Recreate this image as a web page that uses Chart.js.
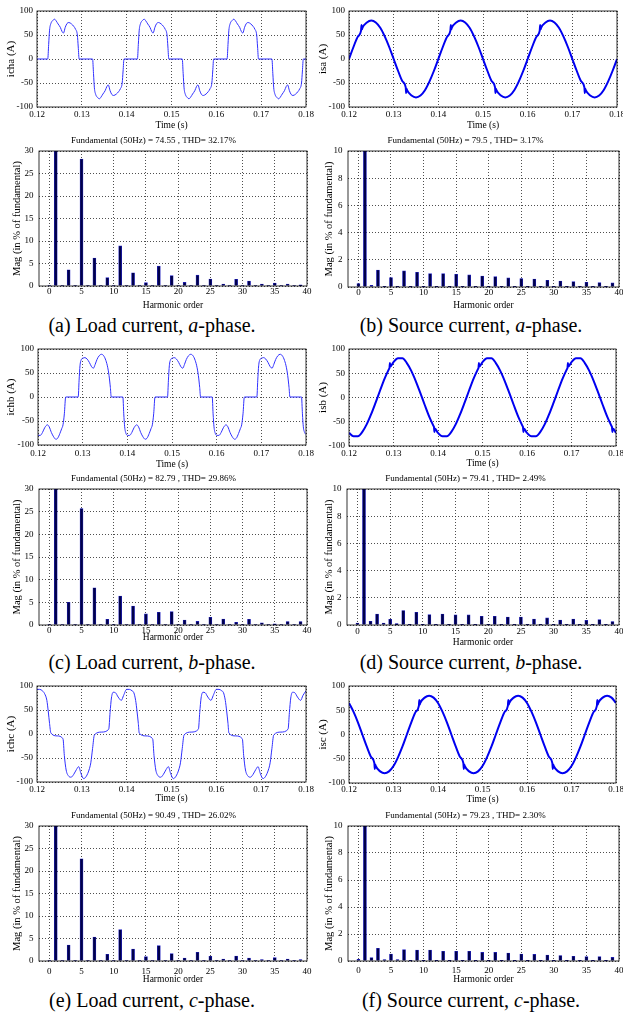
<!DOCTYPE html>
<html>
<head>
<meta charset="utf-8">
<script src="https://cdn.jsdelivr.net/npm/chart.js@4.4.1/dist/chart.umd.min.js"></script>
<style>
  html, body { margin: 0; padding: 0; background: #fff; }
  body { position: relative; width: 623px; height: 1021px; overflow: hidden; font-family: "Liberation Serif", "Times New Roman", serif; }
  .panel { position: absolute; }
  .cap { position: absolute; width: 320px; text-align: center; font-size: 20px; line-height: 24px; color: #000; }
</style>
</head>
<body>
<div class="cap" style="left:-8px;top:313px">(a) Load current, <i>a</i>-phase.</div>
<div class="cap" style="left:311px;top:313px">(b) Source current, <i>a</i>-phase.</div>
<div class="cap" style="left:-8px;top:650px">(c) Load current, <i>b</i>-phase.</div>
<div class="cap" style="left:311px;top:650px">(d) Source current, <i>b</i>-phase.</div>
<div class="cap" style="left:-8px;top:988px">(e) Load current, <i>c</i>-phase.</div>
<div class="cap" style="left:311px;top:988px">(f) Source current, <i>c</i>-phase.</div>
<script>
// tick values / labels
const timeTicks = [0.12, 0.13, 0.14, 0.15, 0.16, 0.17, 0.18];
const timeTickLabels = ['0.12', '0.13', '0.14', '0.15', '0.16', '0.17', '0.18'];
const ampTicks = [-100, -50, 0, 50, 100];
const ampTickLabels = ['-100', '-50', '0', '50', '100'];
const orderTicks = [0, 5, 10, 15, 20, 25, 30, 35, 40];
const orderTickLabels = ['0', '5', '10', '15', '20', '25', '30', '35', '40'];
const loadMagTicks = [0, 5, 10, 15, 20, 25, 30];
const loadMagLabels = ['0', '5', '10', '15', '20', '25', '30'];
const srcMagTicks = [0, 2, 4, 6, 8, 10];
const srcMagLabels = ['0', '2', '4', '6', '8', '10'];

// harmonic spectra, % of fundamental (order 1 = 100, clipped by the axis)
const harmonicOrder = [0,1,2,3,4,5,6,7,8,9,10,11,12,13,14,15,16,17,18,19,20,21,22,23,24,25,26,27,28,29,30,31,32,33,34,35,36,37,38,39];
const loadAHarm = [0.1,100,0.1,3.6,0.1,28.2,0.1,6.2,0.1,1.85,0.1,8.9,0.1,2.95,0.1,0.75,0.1,4.4,0.1,2.3,0.1,0.8,0.1,2.4,0.1,1.55,0.1,0.45,0.1,1.5,0.1,1.1,0.1,0.45,0.1,0.65,0.1,0.45,0.1,0.25];
const srcAHarm = [0.25,100,0.12,1.25,0.05,0.7,0.05,1.18,0.05,1.08,0.05,0.98,0.05,0.98,0.05,0.93,0.05,0.89,0.05,0.81,0.05,0.76,0.05,0.67,0.05,0.62,0.05,0.59,0.05,0.49,0.05,0.44,0.05,0.39,0.05,0.35,0.05,0.32,0.05,0.3];
const loadBHarm = [0.1,100,0.1,5.0,0.1,25.7,0.1,8.2,0.1,1.25,0.1,6.4,0.1,4.2,0.1,2.45,0.1,2.8,0.1,2.95,0.1,1.1,0.1,0.8,0.1,1.7,0.1,1.33,0.1,0.6,0.1,1.25,0.1,0.5,0.1,0.25,0.1,0.75,0.1,0.75];
const srcBHarm = [0.15,100,0.27,0.81,0.15,0.42,0.1,1.06,0.05,0.94,0.05,0.76,0.05,0.81,0.05,0.74,0.05,0.74,0.05,0.64,0.05,0.64,0.05,0.59,0.05,0.59,0.05,0.44,0.05,0.52,0.05,0.37,0.05,0.44,0.05,0.34,0.05,0.39,0.05,0.25];
const loadCHarm = [0.1,100,0.1,3.55,0.1,22.7,0.1,5.33,0.1,1.48,0.1,6.96,0.1,2.67,0.1,0.96,0.1,3.4,0.1,1.63,0.1,0.67,0.1,1.93,0.1,1.04,0.1,0.44,0.1,1.1,0.1,0.67,0.1,0.3,0.1,0.74,0.1,0.44,0.1,0.3];
const srcCHarm = [0.12,100,0.25,0.94,0.1,0.52,0.1,0.84,0.05,0.81,0.05,0.81,0.05,0.72,0.05,0.72,0.05,0.72,0.05,0.64,0.05,0.64,0.05,0.59,0.05,0.52,0.05,0.49,0.05,0.44,0.05,0.4,0.05,0.35,0.05,0.32,0.05,0.32,0.05,0.27];

const harmTitles = [
  'Fundamental (50Hz) = 74.55 , THD= 32.17%',
  'Fundamental (50Hz) = 79.5 , THD= 3.17%',
  'Fundamental (50Hz) = 82.79 , THD= 29.86%',
  'Fundamental (50Hz) = 79.41 , THD= 2.49%',
  'Fundamental (50Hz) = 90.49 , THD= 26.02%',
  'Fundamental (50Hz) = 79.23 , THD= 2.30%'
];

// waveforms [time s, current A]
const loadA = [
  [0.1200,0],
  [0.1224,0],[0.1226,30],[0.1228,60],[0.1231,74],[0.1235,80],[0.1239,83],[0.1243,79],[0.1247,73],[0.1252,66],[0.1256,57],[0.1259,54],[0.1263,66],[0.1267,74],[0.1271,76],[0.1277,73],[0.1282,68],[0.1286,62],[0.1290,50],[0.1292,25],[0.1294,0],
  [0.1324,0],[0.1326,-30],[0.1328,-60],[0.1331,-74],[0.1335,-80],[0.1339,-83],[0.1343,-79],[0.1347,-73],[0.1352,-66],[0.1356,-57],[0.1359,-54],[0.1363,-66],[0.1367,-74],[0.1371,-76],[0.1377,-73],[0.1382,-68],[0.1386,-62],[0.1390,-50],[0.1392,-25],[0.1394,0],
  [0.1424,0],[0.1426,30],[0.1428,60],[0.1431,74],[0.1435,80],[0.1439,83],[0.1443,79],[0.1447,73],[0.1452,66],[0.1456,57],[0.1459,54],[0.1463,66],[0.1467,74],[0.1471,76],[0.1477,73],[0.1482,68],[0.1486,62],[0.1490,50],[0.1492,25],[0.1494,0],
  [0.1524,0],[0.1526,-30],[0.1528,-60],[0.1531,-74],[0.1535,-80],[0.1539,-83],[0.1543,-79],[0.1547,-73],[0.1552,-66],[0.1556,-57],[0.1559,-54],[0.1563,-66],[0.1567,-74],[0.1571,-76],[0.1577,-73],[0.1582,-68],[0.1586,-62],[0.1590,-50],[0.1592,-25],[0.1594,0],
  [0.1624,0],[0.1626,30],[0.1628,60],[0.1631,74],[0.1635,80],[0.1639,83],[0.1643,79],[0.1647,73],[0.1652,66],[0.1656,57],[0.1659,54],[0.1663,66],[0.1667,74],[0.1671,76],[0.1677,73],[0.1682,68],[0.1686,62],[0.1690,50],[0.1692,25],[0.1694,0],
  [0.1724,0],[0.1726,-30],[0.1728,-60],[0.1731,-74],[0.1735,-80],[0.1739,-83],[0.1743,-79],[0.1747,-73],[0.1752,-66],[0.1756,-57],[0.1759,-54],[0.1763,-66],[0.1767,-74],[0.1771,-76],[0.1777,-73],[0.1782,-68],[0.1786,-62],[0.1790,-50],[0.1792,-25],[0.1794,0],
  [0.1800,0]
];
const loadB = [
  [0.1200,-78],[0.1201,-80],[0.1205,-80],[0.1210,-74],[0.1215,-64],[0.1221,-58],[0.1225,-62],[0.1230,-74],[0.1235,-83],[0.1240,-88],[0.1244,-86],[0.1249,-76],[0.1253,-66],[0.1256,-58],[0.1259,-35],[0.1262,0],
  [0.1290,0],[0.1292,35],[0.1294,65],[0.1297,78],[0.1301,81],[0.1305,82],[0.1310,79],[0.1315,72],[0.1320,63],[0.1324,60],[0.1328,68],[0.1332,78],[0.1337,86],[0.1342,89],[0.1347,86],[0.1352,76],[0.1356,62],[0.1359,45],[0.1362,20],[0.1364,0],
  [0.1390,0],[0.1392,-35],[0.1394,-62],[0.1397,-76],[0.1401,-80],[0.1405,-80],[0.1410,-74],[0.1415,-64],[0.1421,-58],[0.1425,-62],[0.1430,-74],[0.1435,-83],[0.1440,-88],[0.1444,-86],[0.1449,-76],[0.1453,-66],[0.1456,-58],[0.1459,-35],[0.1462,0],
  [0.1490,0],[0.1492,35],[0.1494,65],[0.1497,78],[0.1501,81],[0.1505,82],[0.1510,79],[0.1515,72],[0.1520,63],[0.1524,60],[0.1528,68],[0.1532,78],[0.1537,86],[0.1542,89],[0.1547,86],[0.1552,76],[0.1556,62],[0.1559,45],[0.1562,20],[0.1564,0],
  [0.1590,0],[0.1592,-35],[0.1594,-62],[0.1597,-76],[0.1601,-80],[0.1605,-80],[0.1610,-74],[0.1615,-64],[0.1621,-58],[0.1625,-62],[0.1630,-74],[0.1635,-83],[0.1640,-88],[0.1644,-86],[0.1649,-76],[0.1653,-66],[0.1656,-58],[0.1659,-35],[0.1662,0],
  [0.1690,0],[0.1692,35],[0.1694,65],[0.1697,78],[0.1701,81],[0.1705,82],[0.1710,79],[0.1715,72],[0.1720,63],[0.1724,60],[0.1728,68],[0.1732,78],[0.1737,86],[0.1742,89],[0.1747,86],[0.1752,76],[0.1756,62],[0.1759,45],[0.1762,20],[0.1764,0],
  [0.1790,0],[0.1792,-35],[0.1794,-62],[0.1797,-74],[0.1800,-78]
];
const loadC = [
  [0.1200,93],[0.1206,93],[0.1212,90],[0.1217,84],[0.1222,70],[0.1225,48],[0.1228,22],[0.1231,2],[0.1245,-4],
  [0.1258,-10],[0.1261,-45],[0.1265,-75],[0.1270,-87],[0.1276,-90],[0.1282,-84],[0.1288,-74],[0.1293,-68],[0.1298,-82],[0.1304,-93],[0.1310,-88],[0.1316,-75],[0.1320,-60],[0.1324,-30],[0.1328,-2],[0.1344,4],
  [0.1360,10],[0.1363,45],[0.1366,75],[0.1370,87],[0.1375,86],[0.1381,77],[0.1388,70],[0.1393,80],[0.1400,93],[0.1406,93],[0.1412,90],[0.1416,86],[0.1420,70],[0.1423,48],[0.1426,22],[0.1428,2],[0.1443,-4],
  [0.1458,-10],[0.1461,-45],[0.1465,-75],[0.1470,-87],[0.1476,-90],[0.1482,-84],[0.1488,-74],[0.1493,-68],[0.1498,-82],[0.1504,-93],[0.1510,-88],[0.1516,-75],[0.1520,-60],[0.1524,-30],[0.1528,-2],[0.1544,4],
  [0.1560,10],[0.1563,45],[0.1566,75],[0.1570,87],[0.1575,86],[0.1581,77],[0.1588,70],[0.1593,80],[0.1600,93],[0.1606,93],[0.1612,90],[0.1616,86],[0.1620,70],[0.1623,48],[0.1626,22],[0.1628,2],[0.1643,-4],
  [0.1658,-10],[0.1661,-45],[0.1665,-75],[0.1670,-87],[0.1676,-90],[0.1682,-84],[0.1688,-74],[0.1693,-68],[0.1698,-82],[0.1704,-93],[0.1710,-88],[0.1716,-75],[0.1720,-60],[0.1724,-30],[0.1728,-2],[0.1744,4],
  [0.1760,10],[0.1763,45],[0.1766,75],[0.1770,87],[0.1775,86],[0.1781,77],[0.1788,70],[0.1793,80],[0.1800,90]
];
const srcA = [
  [0.120,0],[0.121,25],[0.122,47],[0.1227,59],[0.1228,71],[0.1229,62],[0.123,65],[0.124,76],[0.125,80],[0.126,76],[0.127,65],[0.128,47],[0.129,25],
  [0.130,0],[0.131,-25],[0.132,-47],[0.1327,-59],[0.1328,-71],[0.1329,-62],[0.133,-65],[0.134,-76],[0.135,-80],[0.136,-76],[0.137,-65],[0.138,-47],[0.139,-25],
  [0.140,0],[0.141,25],[0.142,47],[0.1427,59],[0.1428,71],[0.1429,62],[0.143,65],[0.144,76],[0.145,80],[0.146,76],[0.147,65],[0.148,47],[0.149,25],
  [0.150,0],[0.151,-25],[0.152,-47],[0.1527,-59],[0.1528,-71],[0.1529,-62],[0.153,-65],[0.154,-76],[0.155,-80],[0.156,-76],[0.157,-65],[0.158,-47],[0.159,-25],
  [0.160,0],[0.161,25],[0.162,47],[0.1627,59],[0.1628,71],[0.1629,62],[0.163,65],[0.164,76],[0.165,80],[0.166,76],[0.167,65],[0.168,47],[0.169,25],
  [0.170,0],[0.171,-25],[0.172,-47],[0.1727,-59],[0.1728,-71],[0.1729,-62],[0.173,-65],[0.174,-76],[0.175,-80],[0.176,-76],[0.177,-65],[0.178,-47],[0.179,-25],
  [0.180,0]
];
const srcB = [
  [0.120,-73],[0.121,-80],[0.122,-80],[0.123,-71],[0.124,-55],[0.125,-34],[0.126,-10],[0.127,15],[0.128,39],[0.129,59],[0.1291,61],[0.1292,71],[0.1293,64],
  [0.130,73],[0.131,81],[0.132,81],[0.133,71],[0.134,55],[0.135,34],[0.136,10],[0.137,-15],[0.138,-39],[0.139,-59],[0.1391,-61],[0.1392,-71],[0.1393,-64],
  [0.140,-73],[0.141,-80],[0.142,-80],[0.143,-71],[0.144,-55],[0.145,-34],[0.146,-10],[0.147,15],[0.148,39],[0.149,59],[0.1491,61],[0.1492,71],[0.1493,64],
  [0.150,73],[0.151,81],[0.152,81],[0.153,71],[0.154,55],[0.155,34],[0.156,10],[0.157,-15],[0.158,-39],[0.159,-59],[0.1591,-61],[0.1592,-71],[0.1593,-64],
  [0.160,-73],[0.161,-80],[0.162,-80],[0.163,-71],[0.164,-55],[0.165,-34],[0.166,-10],[0.167,15],[0.168,39],[0.169,59],[0.1691,61],[0.1692,71],[0.1693,64],
  [0.170,73],[0.171,81],[0.172,81],[0.173,71],[0.174,55],[0.175,34],[0.176,10],[0.177,-15],[0.178,-39],[0.179,-59],[0.1791,-61],[0.1792,-71],[0.1793,-64],
  [0.180,-73]
];
const srcC = [
  [0.120,65],[0.121,47],[0.122,25],[0.123,0],[0.124,-25],[0.125,-47],[0.1257,-59],[0.1258,-71],[0.1259,-62],[0.126,-65],[0.127,-76],[0.128,-80],[0.129,-76],
  [0.130,-65],[0.131,-47],[0.132,-25],[0.133,0],[0.134,25],[0.135,47],[0.1357,59],[0.1358,71],[0.1359,62],[0.136,65],[0.137,76],[0.138,80],[0.139,76],
  [0.140,65],[0.141,47],[0.142,25],[0.143,0],[0.144,-25],[0.145,-47],[0.1457,-59],[0.1458,-71],[0.1459,-62],[0.146,-65],[0.147,-76],[0.148,-80],[0.149,-76],
  [0.150,-65],[0.151,-47],[0.152,-25],[0.153,0],[0.154,25],[0.155,47],[0.1557,59],[0.1558,71],[0.1559,62],[0.156,65],[0.157,76],[0.158,80],[0.159,76],
  [0.160,65],[0.161,47],[0.162,25],[0.163,0],[0.164,-25],[0.165,-47],[0.1657,-59],[0.1658,-71],[0.1659,-62],[0.166,-65],[0.167,-76],[0.168,-80],[0.169,-76],
  [0.170,-65],[0.171,-47],[0.172,-25],[0.173,0],[0.174,25],[0.175,47],[0.1757,59],[0.1758,71],[0.1759,62],[0.176,65],[0.177,76],[0.178,80],[0.179,76],
  [0.180,65]
];

// panel placement (plot-area edges in page px)
const layout = {
  a1: { cx: 0, cw: 320, left: 37, right: 306, top: 11, bottom: 107, tickGap: 7.7, titleGap: 18.7 },
  b1: { cx: 312, cw: 311, left: 349, right: 617, top: 11, bottom: 107, tickGap: 7.7, titleGap: 18.7 },
  a2: { cx: 0, cw: 320, left: 39, right: 307, top: 151, bottom: 286, tickGap: 5.7, titleGap: 19.7 },
  b2: { cx: 312, cw: 311, left: 348, right: 619, top: 151, bottom: 287, tickGap: 5.3, titleGap: 18.3 },
  a3: { cx: 0, cw: 320, left: 38, right: 306, top: 349, bottom: 445, tickGap: 8.3, titleGap: 19 },
  b3: { cx: 312, cw: 311, left: 349, right: 616, top: 349, bottom: 446, tickGap: 7.3, titleGap: 17.7 },
  a4: { cx: 0, cw: 320, left: 39, right: 307, top: 489, bottom: 625, tickGap: 5.7, titleGap: 12.7 },
  b4: { cx: 312, cw: 311, left: 347, right: 619, top: 489, bottom: 625, tickGap: 6.7, titleGap: 17.3 },
  a5: { cx: 0, cw: 320, left: 37, right: 306, top: 686, bottom: 782, tickGap: 7.3, titleGap: 16.3 },
  b5: { cx: 312, cw: 311, left: 349, right: 616, top: 686, bottom: 783, tickGap: 6.7, titleGap: 16.3 },
  a6: { cx: 0, cw: 320, left: 39, right: 307, top: 826, bottom: 961, tickGap: 10.7, titleGap: 18 },
  b6: { cx: 312, cw: 311, left: 348, right: 619, top: 826, bottom: 961, tickGap: 10, titleGap: 18.7 }
};

const SERIF = "'Liberation Serif', 'Times New Roman', serif";
Chart.defaults.font.family = SERIF;
Chart.defaults.color = '#000';
const tickFont = { family: SERIF, size: 9 };
const gridOpts = { color: '#222', lineWidth: 0.8, drawTicks: false };
const borderOpts = { display: false, dash: [1, 2] };

// box round the plot area, like matlab axes
const framePlugin = {
  id: 'frame',
  afterDraw(chart) {
    const { ctx, chartArea: a } = chart;
    ctx.save();
    ctx.strokeStyle = '#000';
    ctx.lineWidth = 0.8;
    ctx.strokeRect(a.left, a.top, a.right - a.left, a.bottom - a.top);
    ctx.restore();
  }
};

function makeCanvas(x, y, w, h) {
  const box = document.createElement('div');
  box.className = 'panel';
  box.style.left = x + 'px';
  box.style.top = y + 'px';
  box.style.width = w + 'px';
  box.style.height = h + 'px';
  const cv = document.createElement('canvas');
  box.appendChild(cv);
  document.body.appendChild(box);
  return cv;
}

function xAxis(min, max, ticks, labels, p, title) {
  return {
    type: 'linear', min: min, max: max, offset: false,
    afterBuildTicks: s => { s.ticks = ticks.map(v => ({ value: v })); },
    afterFit: s => { s.height = 30; s.paddingLeft = 0; s.paddingRight = 0; },
    ticks: { autoSkip: false, maxRotation: 0, padding: Math.max(p.tickGap - 5.4, 0), color: '#000', font: tickFont,
      callback: (v, i) => labels[i] },
    grid: Object.assign({ offset: false }, gridOpts),
    border: borderOpts,
    title: { display: true, text: title, color: '#000', font: { family: SERIF, size: 9.5 },
      padding: { top: 0, bottom: 30 - p.titleGap - 5.7 } }
  };
}

function yAxis(min, max, ticks, labels, p, title, titleSize, titleCenter, tickPad) {
  return {
    type: 'linear', min: min, max: max,
    afterBuildTicks: s => { s.ticks = ticks.map(v => ({ value: v })); },
    afterFit: s => { s.width = p.left - p.cx; s.paddingTop = 0; s.paddingBottom = 0; },
    ticks: { autoSkip: false, padding: tickPad, color: '#000', font: tickFont,
      callback: (v, i) => labels[i] },
    grid: gridOpts,
    border: borderOpts,
    title: { display: true, text: title, color: '#000', font: { family: SERIF, size: titleSize },
      padding: { top: titleCenter - titleSize * 0.6, bottom: 0 } }
  };
}

function waveChart(p, pts, yTitle, color, lw) {
  const cv = makeCanvas(p.cx, p.top - 8, p.cw, p.bottom - p.top + 38);
  return new Chart(cv, {
    type: 'line',
    data: {
      datasets: [{
        data: pts.map(d => ({ x: d[0], y: d[1] })),
        borderColor: color, borderWidth: lw, pointRadius: 0,
        cubicInterpolationMode: 'monotone', fill: false
      }]
    },
    options: {
      responsive: true, maintainAspectRatio: false, animation: false, events: [],
      layout: { padding: { left: 0, top: 8, right: p.cx + p.cw - p.right, bottom: 0 } },
      plugins: { legend: { display: false }, tooltip: { enabled: false } },
      scales: {
        x: xAxis(0.12, 0.18, timeTicks, timeTickLabels, p, 'Time (s)'),
        y: yAxis(-100, 100, ampTicks, ampTickLabels, p, yTitle, 11, 11, 4)
      }
    },
    plugins: [framePlugin]
  });
}

function harmChart(p, vals, yMax, yTicks, yLabels, title) {
  const cv = makeCanvas(p.cx, p.top - 20, p.cw, p.bottom - p.top + 50);
  return new Chart(cv, {
    type: 'bar',
    data: {
      datasets: [{
        data: harmonicOrder.map((h, i) => ({ x: h, y: vals[i] })),
        backgroundColor: '#00004a', borderColor: '#2424c8', borderWidth: 0.6,
        barThickness: 3, clip: 0
      }]
    },
    options: {
      responsive: true, maintainAspectRatio: false, animation: false, events: [],
      layout: { padding: { left: 0, top: 0, right: p.cx + p.cw - p.right, bottom: 0 } },
      plugins: {
        legend: { display: false }, tooltip: { enabled: false },
        title: { display: true, text: title, color: '#000', font: { family: SERIF, size: 9, weight: 'normal' },
          padding: { top: 4.6, bottom: 4.6 } }
      },
      scales: {
        x: xAxis(-1.6, 40, orderTicks, orderTickLabels, p, 'Harmonic order'),
        y: yAxis(0, yMax, yTicks, yLabels, p, 'Mag (in % of fundamental)', 10.5, 17, 5.5)
      }
    },
    plugins: [framePlugin]
  });
}

const loadColor = '#3030ff';
const srcColor = '#0000f0';

waveChart(layout.a1, loadA, 'icha (A)', loadColor, 1);
waveChart(layout.b1, srcA, 'isa (A)', srcColor, 2);
harmChart(layout.a2, loadAHarm, 30, loadMagTicks, loadMagLabels, harmTitles[0]);
harmChart(layout.b2, srcAHarm, 10, srcMagTicks, srcMagLabels, harmTitles[1]);

waveChart(layout.a3, loadB, 'ichb (A)', loadColor, 1);
waveChart(layout.b3, srcB, 'isb (A)', srcColor, 2);
harmChart(layout.a4, loadBHarm, 30, loadMagTicks, loadMagLabels, harmTitles[2]);
harmChart(layout.b4, srcBHarm, 10, srcMagTicks, srcMagLabels, harmTitles[3]);

waveChart(layout.a5, loadC, 'ichc (A)', loadColor, 1);
waveChart(layout.b5, srcC, 'isc (A)', srcColor, 2);
harmChart(layout.a6, loadCHarm, 30, loadMagTicks, loadMagLabels, harmTitles[4]);
harmChart(layout.b6, srcCHarm, 10, srcMagTicks, srcMagLabels, harmTitles[5]);
</script>
</body>
</html>
